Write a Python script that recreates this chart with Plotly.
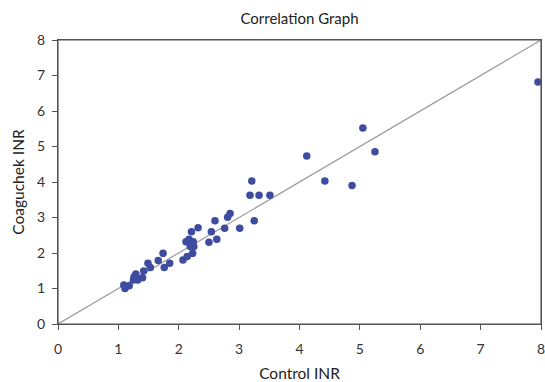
import plotly.graph_objects as go

control_inr = [1.09, 1.11, 1.18, 1.25, 1.32, 1.26, 1.29, 1.30, 1.40, 1.42,
               1.49, 1.53, 1.66, 1.74, 1.76, 1.85, 2.07, 2.14, 2.23, 2.19,
               2.25, 2.12, 2.17, 2.20, 2.24, 2.21, 2.32, 2.50, 2.54, 2.63,
               2.60, 2.76, 2.81, 2.85, 3.01, 3.25, 3.18, 3.21, 3.33, 3.51,
               4.12, 4.42, 4.87, 5.05, 5.25, 7.95]
coaguchek_inr = [1.10, 1.00, 1.08, 1.24, 1.24, 1.33, 1.41, 1.30, 1.30, 1.49,
                 1.71, 1.59, 1.79, 1.99, 1.59, 1.71, 1.80, 1.90, 1.99, 2.18,
                 2.18, 2.32, 2.39, 2.29, 2.32, 2.60, 2.71, 2.30, 2.60, 2.39,
                 2.91, 2.70, 3.01, 3.11, 2.70, 2.91, 3.63, 4.03, 3.63, 3.63,
                 4.73, 4.03, 3.90, 5.52, 4.85, 6.82]
identity_line = [0, 8]
tick_vals = [0, 1, 2, 3, 4, 5, 6, 7, 8]

FONT = "Lato, 'Open Sans', sans-serif"

W, H = 545, 382
L, R, T, B = 58, 4, 40, 58

fig = go.Figure()
fig.add_trace(go.Scatter(x=identity_line, y=identity_line, mode="lines",
                         line=dict(color="#9a9a9a", width=1.2),
                         hoverinfo="skip", showlegend=False))
fig.add_trace(go.Scatter(x=control_inr, y=coaguchek_inr, mode="markers",
                         marker=dict(color="#3d4ba0", size=7.5),
                         showlegend=False, cliponaxis=False))

axis_common = dict(range=[0, 8], tickvals=tick_vals, showgrid=False, zeroline=False,
                   showline=True, linecolor="#555555", linewidth=1.2, mirror=True,
                   ticks="outside", ticklen=5, tickcolor="#555555", tickwidth=1.2,
                   ticklabeloverflow="allow",
                   tickfont=dict(family=FONT, size=14, color="#333333"))

fig.update_layout(
    width=W, height=H,
    margin=dict(l=L, r=R, t=T, b=B, autoexpand=False),
    paper_bgcolor="white", plot_bgcolor="white",
    title=dict(text="Correlation Graph", x=(L + W - R) / 2 / W, xanchor="center",
               y=1 - 19 / H, yanchor="middle",
               font=dict(family=FONT, size=15, color="#222222")),
    xaxis=dict(**axis_common, ticklabelstandoff=7,
               title=dict(text="Control INR", standoff=18,
                          font=dict(family=FONT, size=15.5, color="#222222"))),
    yaxis=dict(**axis_common, ticklabelstandoff=4,
               title=dict(text="Coaguchek INR", standoff=8,
                          font=dict(family=FONT, size=15.5, color="#222222"))),
    shapes=[dict(type="rect", xref="paper", yref="paper", x0=0, x1=1, y0=0, y1=1,
                 line=dict(color="#555555", width=1.2), layer="above")],
)

fig.write_html(
    "out.html",
    config={"displayModeBar": False},
    post_script="document.body.style.margin='0';document.body.style.overflow='hidden';",
)
